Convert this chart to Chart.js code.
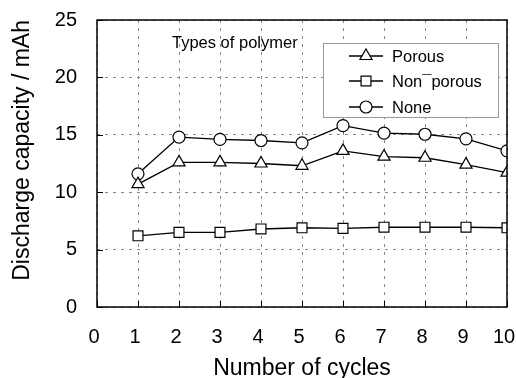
<!DOCTYPE html>
<html>
<head>
<meta charset="utf-8">
<script src="https://cdn.jsdelivr.net/npm/chart.js@4/dist/chart.umd.min.js"></script>
<style>
  html, body { margin: 0; padding: 0; background: #fff; }
  #wrap { width: 516px; height: 378px; }
</style>
</head>
<body>
<div id="wrap"><canvas id="c" width="516" height="378"></canvas></div>
<script>
const cycles = [1, 2, 3, 4, 5, 6, 7, 8, 9, 10];
const porous = [10.7, 12.6, 12.6, 12.5, 12.3, 13.6, 13.1, 13.0, 12.4, 11.7];
const nonPorous = [6.2, 6.5, 6.5, 6.8, 6.9, 6.85, 6.95, 6.95, 6.95, 6.9];
const none = [11.6, 14.8, 14.6, 14.5, 14.3, 15.8, 15.15, 15.05, 14.65, 13.6];
const seriesNames = ['Porous', 'Non\u00AFporous', 'None'];
const xTicks = [0, 1, 2, 3, 4, 5, 6, 7, 8, 9, 10];
const yTicks = [0, 5, 10, 15, 20, 25];
const annotationText = 'Types of polymer';

const FONT = '"Liberation Sans", Arial, sans-serif';

function pts(arr) { return cycles.map((c, i) => ({ x: c, y: arr[i] })); }

const styles = [
  { pointStyle: 'triangle', pointRadius: 7 },
  { pointStyle: 'rect', pointRadius: 7 },
  { pointStyle: 'circle', pointRadius: 6 }
];
const seriesData = [porous, nonPorous, none];

const datasets = seriesData.map((arr, i) => ({
  label: seriesNames[i],
  data: pts(arr),
  borderColor: '#000',
  borderWidth: 1.4,
  backgroundColor: '#fff',
  pointBackgroundColor: '#fff',
  pointBorderColor: '#000',
  pointBorderWidth: 1.2,
  pointStyle: styles[i].pointStyle,
  pointRadius: styles[i].pointRadius,
  tension: 0,
  fill: false
}));

const overlay = {
  id: 'overlay',
  afterDraw(chart) {
    const { ctx, chartArea: a, scales } = chart;
    ctx.save();
    // inner tick marks
    ctx.strokeStyle = '#000';
    ctx.lineWidth = 1;
    xTicks.forEach(v => {
      const x = Math.round(scales.x.getPixelForValue(v)) + 0.5;
      ctx.beginPath(); ctx.moveTo(x, a.bottom); ctx.lineTo(x, a.bottom - 6); ctx.stroke();
    });
    yTicks.forEach(v => {
      const y = Math.round(scales.y.getPixelForValue(v)) + 0.5;
      ctx.beginPath(); ctx.moveTo(a.left, y); ctx.lineTo(a.left + 6, y); ctx.stroke();
    });
    // frame
    ctx.lineWidth = 1.5;
    ctx.strokeRect(a.left, a.top, a.right - a.left, a.bottom - a.top);

    // annotation
    ctx.fillStyle = '#000';
    ctx.font = '16.5px ' + FONT;
    ctx.textBaseline = 'middle';
    ctx.textAlign = 'left';
    ctx.fillText(annotationText, 172, 43);

    // legend
    const bx = 323.5, by = 43.5, bw = 175, bh = 74;
    ctx.fillStyle = '#fff';
    ctx.fillRect(bx, by, bw, bh);
    ctx.strokeStyle = '#999';
    ctx.lineWidth = 1;
    ctx.strokeRect(bx, by, bw, bh);
    const rows = [56, 81, 107];
    ctx.font = '16.5px ' + FONT;
    datasets.forEach((ds, i) => {
      const y = rows[i];
      ctx.strokeStyle = '#000';
      ctx.lineWidth = 1.4;
      ctx.beginPath(); ctx.moveTo(349, y); ctx.lineTo(383, y); ctx.stroke();
      ctx.fillStyle = '#fff';
      ctx.strokeStyle = '#000';
      ctx.lineWidth = 1.2;
      Chart.helpers.drawPoint(ctx, {
        pointStyle: ds.pointStyle, radius: ds.pointRadius, rotation: 0, borderWidth: 1.2
      }, 366, y);
      ctx.fillStyle = '#000';
      ctx.textBaseline = 'middle';
      ctx.fillText(ds.label, 392, y + 1);
    });
    ctx.restore();
  }
};

new Chart(document.getElementById('c'), {
  type: 'line',
  data: { datasets },
  options: {
    responsive: false,
    animation: false,
    devicePixelRatio: 1,
    layout: { autoPadding: false, padding: { top: 20, right: 9, left: 0, bottom: 0 } },
    plugins: { legend: { display: false }, tooltip: { enabled: false } },
    scales: {
      x: {
        type: 'linear',
        min: 0, max: 10,
        afterFit(s) { s.height = 71; s.paddingLeft = 0; s.paddingRight = 0; },
        afterBuildTicks(s) { s.ticks = xTicks.map(v => ({ value: v })); },
        ticks: { color: '#000', font: { family: FONT, size: 20 }, padding: 18, maxRotation: 0, labelOffset: -3 },
        grid: { color: '#888', lineWidth: 1, drawTicks: false },
        border: { display: false, dash: [3, 5] },
        title: { display: true, text: 'Number of cycles', color: '#000',
                 font: { family: FONT, size: 23, lineHeight: 1 }, padding: { top: 0, bottom: -2 } }
      },
      y: {
        type: 'linear',
        min: 0, max: 25,
        afterFit(s) { s.width = 97; s.paddingTop = 0; s.paddingBottom = 0; },
        afterBuildTicks(s) { s.ticks = yTicks.map(v => ({ value: v })); },
        ticks: { color: '#000', font: { family: FONT, size: 20 }, padding: 20 },
        grid: { color: '#888', lineWidth: 1, drawTicks: false },
        border: { display: false, dash: [3, 5] },
        title: { display: true, text: 'Discharge capacity / mAh', color: '#000', align: 'end',
                 font: { family: FONT, size: 23, lineHeight: 1.2 }, padding: { top: 9, bottom: 0 } }
      }
    }
  },
  plugins: [overlay]
});
</script>
</body>
</html>
